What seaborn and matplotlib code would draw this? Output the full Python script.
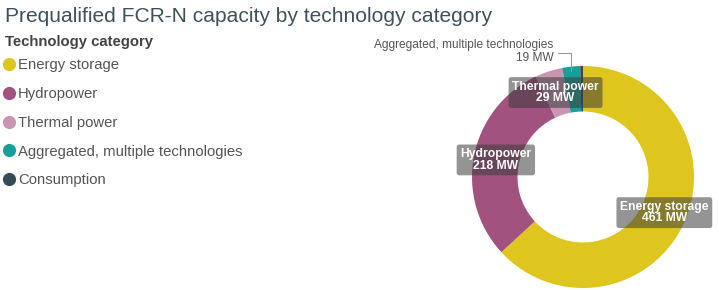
import matplotlib
import matplotlib.pyplot as plt
import numpy as np
import seaborn as sns
from matplotlib.lines import Line2D

# Prequalified capacity (MW) per technology category
categories = ["Energy storage", "Hydropower", "Thermal power",
              "Aggregated, multiple technologies", "Consumption"]
capacity_mw = [461, 218, 29, 19, 3]
colors = ["#DEC61F", "#A1527F", "#C995B3", "#16A09B", "#374B56"]

sns.set_theme(style="white")
plt.rcParams["font.family"] = ["Liberation Sans", "DejaVu Sans"]

fig = plt.figure(figsize=(7.19, 2.90), dpi=100)

# donut axes, centre ~ (583, 177) px, radius ~111 px
W, H = 719, 290
R = 111
ax = fig.add_axes([(583 - R) / W, (H - 177 - R) / H, 2 * R / W, 2 * R / H])
wedges, _ = ax.pie(capacity_mw, colors=colors, startangle=90, counterclock=False,
                   radius=1.0, wedgeprops=dict(width=0.41, linewidth=0))
ax.set_xlim(-1, 1)
ax.set_ylim(-1, 1)
ax.set_aspect("equal")
ax.axis("off")

# slice labels at the middle of the ring
total = sum(capacity_mw)
cum = np.cumsum([0] + capacity_mw)
for i, (name, val) in enumerate(zip(categories, capacity_mw)):
    mid = np.deg2rad(90 - (cum[i] + val / 2) / total * 360)
    if i < 3:
        r = 0.80
        ax.text(r * np.cos(mid), r * np.sin(mid), f"{name}\n{val} MW",
                ha="center", va="center", color="white", fontsize=8.7,
                fontweight="bold", linespacing=0.95, clip_on=False,
                bbox=dict(boxstyle="round,pad=0.3,rounding_size=0.2",
                          facecolor="#3c3c3c", alpha=0.55, edgecolor="none"))
    elif i == 3:
        px, py = np.cos(mid), np.sin(mid)
        ax.plot([px - 0.12, px, px], [1.12, 1.12, py * 0.96], color="#999999",
                lw=0.8, clip_on=False)
        ax.text(px - 0.16, 1.19, name, ha="right", va="center",
                fontsize=8.6, color="#555555", clip_on=False)
        ax.text(px - 0.16, 1.07, f"{val} MW", ha="right", va="center",
                fontsize=8.6, color="#555555", clip_on=False)

# title
fig.text(5 / W, 1 - 17 / H, "Prequalified FCR-N capacity by technology category",
         fontsize=15.1, color="#3E525C", ha="left", va="center")

# legend heading
fig.text(5 / W, 1 - 42 / H, "Technology category", fontsize=10.7,
         fontweight="bold", color="#444444", ha="left", va="center")

# legend
handles = [Line2D([], [], marker="o", linestyle="none", markersize=9.5,
                  markerfacecolor=c, markeredgecolor="none") for c in colors]
leg = fig.legend(handles, categories, loc="upper left",
                 bbox_to_anchor=(4 / W, 1 - 58 / H), frameon=False,
                 fontsize=10.7, labelspacing=1.0,
                 handlelength=0.7, handletextpad=0.25, borderpad=0.0,
                 borderaxespad=0)
for t in leg.get_texts():
    t.set_color("#555555")

plt.savefig("out.png", dpi=100)
